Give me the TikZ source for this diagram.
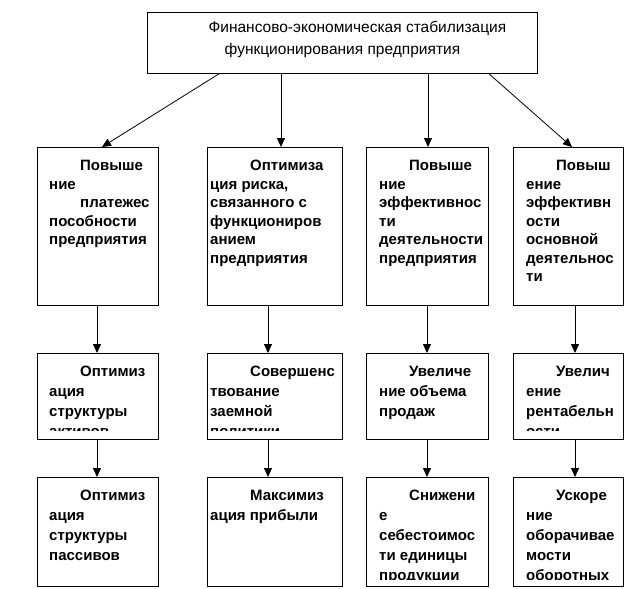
\documentclass[tikz,border=0pt]{standalone}
\usepackage{fontspec}
\setmainfont{Liberation Sans}
\usepackage{tikz}
\usetikzlibrary{arrows.meta, calc}

\begin{document}
\begin{tikzpicture}[x=1pt,y=-1pt,
        ramka/.style={draw,line width=0.8pt,inner sep=0pt,anchor=north west},
        tekst/.style={anchor=north west,inner sep=0pt,align=left,font=\bfseries\fontsize{15}{18.5}\selectfont},
        tekstb/.style={tekst,font=\bfseries\fontsize{15}{20}\selectfont},
        strzalka/.style={line width=0.8pt,-{Triangle[length=9pt,width=8pt]}}]

        \useasboundingbox (0,0) rectangle (627,589);

        % glowny blok
        \node[ramka,minimum width=390pt,minimum height=61pt] (G) at (147,12) {};
        \node[font=\fontsize{15.5}{22}\selectfont,align=center] (Gt) at ([yshift=3pt]G.center)
            {\hspace*{30pt}Финансово-экономическая стабилизация\\функционирования предприятия};

        % pierwszy rzad
        \node[ramka,minimum width=121pt,minimum height=158pt] (A1) at (37,147) {};
        \node[ramka,minimum width=135pt,minimum height=158pt] (B1) at (207,147) {};
        \node[ramka,minimum width=122pt,minimum height=158pt] (C1) at (366,147) {};
        \node[ramka,minimum width=110pt,minimum height=158pt] (D1) at (513,147) {};

        % drugi rzad
        \node[ramka,minimum width=121pt,minimum height=86pt] (A2) at (37,353) {};
        \node[ramka,minimum width=135pt,minimum height=86pt] (B2) at (207,353) {};
        \node[ramka,minimum width=122pt,minimum height=86pt] (C2) at (366,353) {};
        \node[ramka,minimum width=110pt,minimum height=86pt] (D2) at (513,353) {};

        % trzeci rzad
        \node[ramka,minimum width=121pt,minimum height=109pt] (A3) at (37,477) {};
        \node[ramka,minimum width=135pt,minimum height=109pt] (B3) at (207,477) {};
        \node[ramka,minimum width=122pt,minimum height=109pt] (C3) at (366,477) {};
        \node[ramka,minimum width=110pt,minimum height=109pt] (D3) at (513,477) {};

        \draw[strzalka] ([xshift=72pt]G.south west) -- ([xshift=65pt]A1.north west);
        \draw[strzalka] ([xshift=134pt]G.south west) -- ([xshift=74pt]B1.north west);
        \draw[strzalka] ([xshift=281pt]G.south west) -- ([xshift=62pt]C1.north west);
        \draw[strzalka] ([xshift=342pt]G.south west) -- ([xshift=59pt]D1.north west);

        \draw[strzalka] ([xshift=60pt]A1.south west) -- ([xshift=60pt]A2.north west);
        \draw[strzalka] ([xshift=61pt]B1.south west) -- ([xshift=61pt]B2.north west);
        \draw[strzalka] ([xshift=61pt]C1.south west) -- ([xshift=61pt]C2.north west);
        \draw[strzalka] ([xshift=62pt]D1.south west) -- ([xshift=62pt]D2.north west);

        \draw[strzalka] ([xshift=60pt]A2.south west) -- ([xshift=60pt]A3.north west);
        \draw[strzalka] ([xshift=61pt]B2.south west) -- ([xshift=61pt]B3.north west);
        \draw[strzalka] ([xshift=61pt]C2.south west) -- ([xshift=61pt]C3.north west);
        \draw[strzalka] ([xshift=62pt]D2.south west) -- ([xshift=62pt]D3.north west);

        % teksty w blokach
        \begin{scope}
            \clip (A1.north west) rectangle ([yshift=6pt]A1.south east);
            \node[tekst] (A1t) at ([shift={(12pt,-13pt)}]A1.north west)
                {\hspace*{31pt}Повыше\\ние\\\hspace*{31pt}платежес\\пособности\\предприятия};
        \end{scope}
        \begin{scope}
            \clip (B1.north west) rectangle ([yshift=6pt]B1.south east);
            \node[tekst] (B1t) at ([shift={(3pt,-13pt)}]B1.north west)
                {\hspace*{40pt}Оптимиза\\ция риска,\\связанного с\\функциониров\\анием\\предприятия};
        \end{scope}
        \begin{scope}
            \clip (C1.north west) rectangle ([yshift=6pt]C1.south east);
            \node[tekst] (C1t) at ([shift={(13pt,-13pt)}]C1.north west)
                {\hspace*{30pt}Повыше\\ние\\эффективнос\\ти\\деятельности\\предприятия};
        \end{scope}
        \begin{scope}
            \clip (D1.north west) rectangle ([yshift=6pt]D1.south east);
            \node[tekst] (D1t) at ([shift={(13pt,-13pt)}]D1.north west)
                {\hspace*{30pt}Повыш\\ение\\эффективн\\ости\\основной\\деятельнос\\ти};
        \end{scope}

        \begin{scope}
            \clip (A2.north west) rectangle ([yshift=9pt]A2.south east);
            \node[tekstb] (A2t) at ([shift={(12pt,-13pt)}]A2.north west)
                {\hspace*{31pt}Оптимиз\\ация\\структуры\\активов};
        \end{scope}
        \begin{scope}
            \clip (B2.north west) rectangle ([yshift=9pt]B2.south east);
            \node[tekstb] (B2t) at ([shift={(3pt,-13pt)}]B2.north west)
                {\hspace*{40pt}Совершенс\\твование\\заемной\\политики};
        \end{scope}
        \begin{scope}
            \clip (C2.north west) rectangle ([yshift=9pt]C2.south east);
            \node[tekstb] (C2t) at ([shift={(13pt,-13pt)}]C2.north west)
                {\hspace*{30pt}Увеличе\\ние объема\\продаж};
        \end{scope}
        \begin{scope}
            \clip (D2.north west) rectangle ([yshift=9pt]D2.south east);
            \node[tekstb] (D2t) at ([shift={(13pt,-13pt)}]D2.north west)
                {\hspace*{30pt}Увелич\\ение\\рентабельн\\ости};
        \end{scope}

        \begin{scope}
            \clip (A3.north west) rectangle ([yshift=7pt]A3.south east);
            \node[tekstb] (A3t) at ([shift={(12pt,-13pt)}]A3.north west)
                {\hspace*{31pt}Оптимиз\\ация\\структуры\\пассивов};
        \end{scope}
        \begin{scope}
            \clip (B3.north west) rectangle ([yshift=7pt]B3.south east);
            \node[tekstb] (B3t) at ([shift={(3pt,-13pt)}]B3.north west)
                {\hspace*{40pt}Максимиз\\ация прибыли};
        \end{scope}
        \begin{scope}
            \clip (C3.north west) rectangle ([yshift=7pt]C3.south east);
            \node[tekstb] (C3t) at ([shift={(13pt,-13pt)}]C3.north west)
                {\hspace*{30pt}Снижени\\е\\себестоимос\\ти единицы\\продукции};
        \end{scope}
        \begin{scope}
            \clip (D3.north west) rectangle ([yshift=7pt]D3.south east);
            \node[tekstb] (D3t) at ([shift={(13pt,-13pt)}]D3.north west)
                {\hspace*{30pt}Ускоре\\ние\\оборачивае\\мости\\оборотных};
        \end{scope}
    \end{tikzpicture}
\end{document}
